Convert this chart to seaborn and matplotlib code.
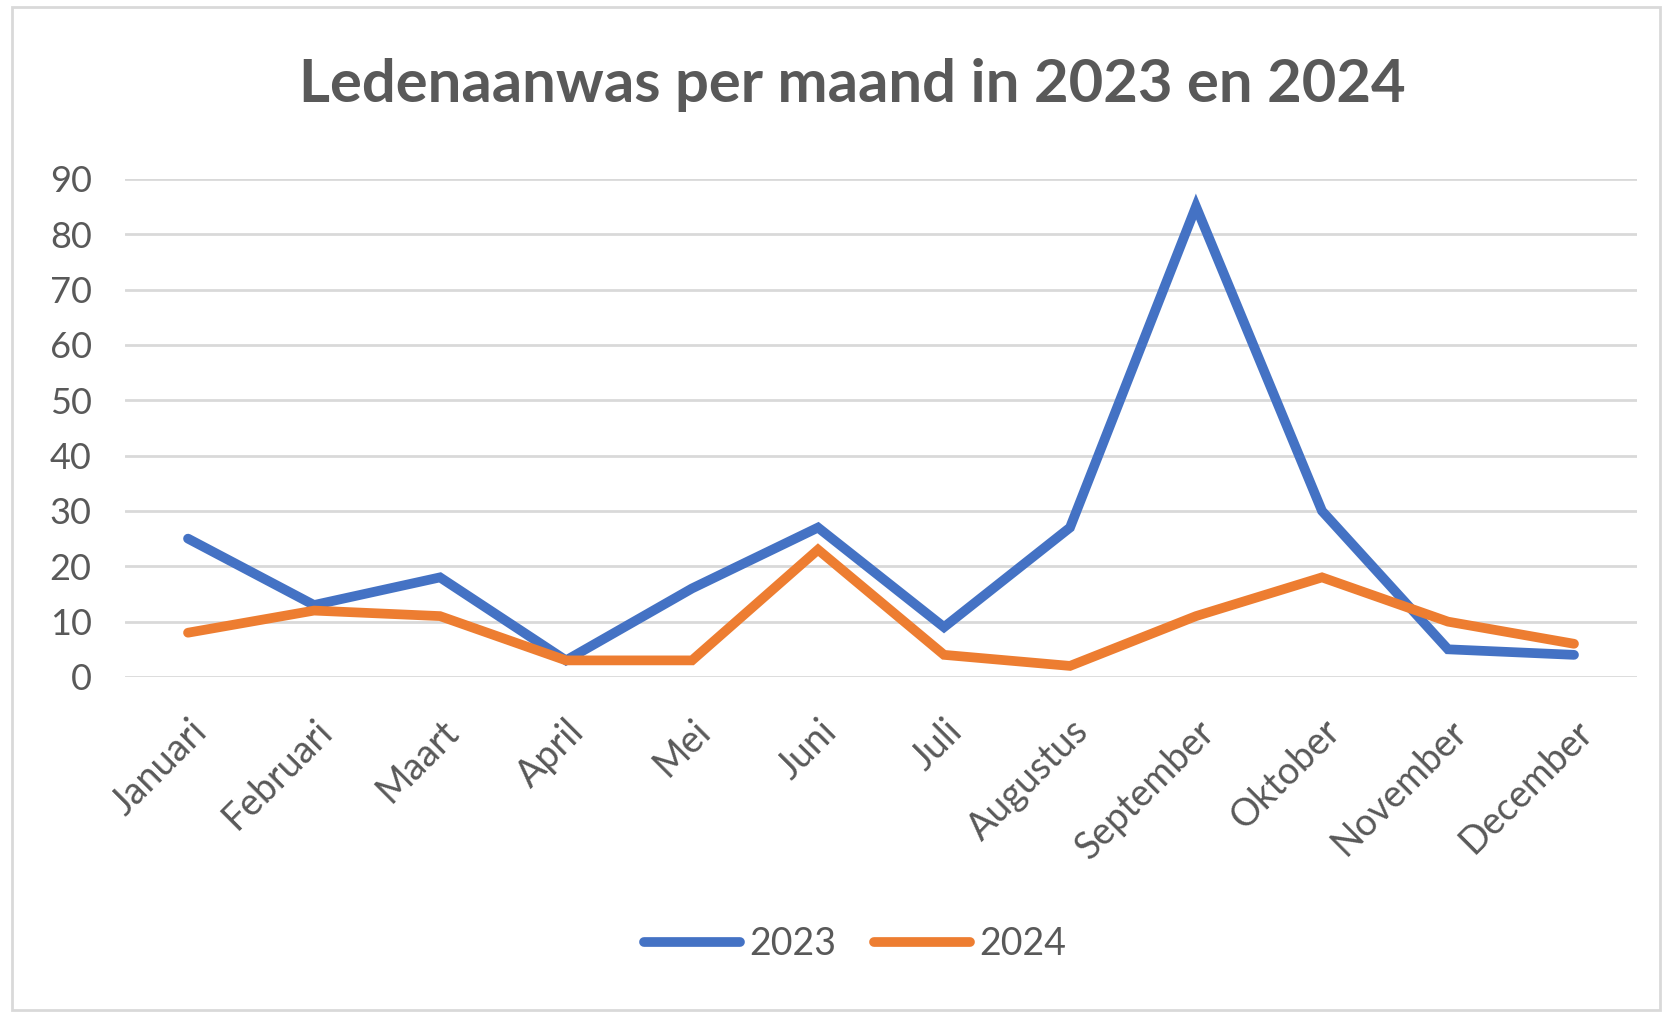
import numpy as np
import pandas as pd
import matplotlib.pyplot as plt
import seaborn as sns
from matplotlib.patches import Rectangle

months = ["Januari", "Februari", "Maart", "April", "Mei", "Juni", "Juli",
          "Augustus", "September", "Oktober", "November", "December"]
growth_2023 = [25, 13, 18, 3, 16, 27, 9, 27, 85, 30, 5, 4]
growth_2024 = [8, 12, 11, 3, 3, 23, 4, 2, 11, 18, 10, 6]
years = ["2023", "2024"]
y_ticks = list(range(0, 100, 10))

df = pd.DataFrame({
    "maand": months * 2,
    "jaar": [years[0]] * 12 + [years[1]] * 12,
    "aanwas": growth_2023 + growth_2024,
})

sns.set_theme(style="white")
plt.rcParams['font.family'] = ['Lato', 'DejaVu Sans']
text_color = "#595959"

fig = plt.figure(figsize=(16.67, 10.13), dpi=100)
ax = fig.add_axes([0.075, 0.3317, 0.907, 0.4917])

sns.lineplot(data=df, x="maand", y="aanwas", hue="jaar", sort=False,
             palette={"2023": "#4472C4", "2024": "#ED7D31"},
             linewidth=7, ax=ax, legend=True)

ax.set_xlim(-0.5, len(months) - 0.5)
ax.set_ylim(0, 90)
ax.set_yticks(y_ticks)
ax.yaxis.grid(True, color="#D9D9D9", linewidth=2)
ax.set_axisbelow(True)
for s in ax.spines.values():
    s.set_visible(False)
ax.set_xlabel("")
ax.set_ylabel("")
ax.tick_params(axis="both", length=0, labelcolor=text_color)
ax.tick_params(axis="y", pad=24, labelsize=26)
ax.tick_params(axis="x", pad=26, labelsize=27)
plt.setp(ax.get_xticklabels(), rotation=45, ha="right", rotation_mode="anchor")
for line in ax.get_lines():
    line.set_solid_capstyle("round")
    line.set_solid_joinstyle("miter")
    line.set_clip_on(False)

handles, labels = ax.get_legend_handles_labels()
ax.legend_.remove()
for h in handles:
    h.set_linewidth(7)
    h.set_solid_capstyle("round")
fig.legend(handles, labels, loc="center", bbox_to_anchor=(0.513, 0.068),
           ncol=2, frameon=False, fontsize=27, labelcolor=text_color,
           handlelength=2.55, handletextpad=0.25, columnspacing=1.0)

fig.suptitle("Ledenaanwas per maand in 2023 en 2024", x=0.511, y=0.916, va="center",
             fontsize=43, fontweight="bold", color=text_color)

fig.patches.append(Rectangle((0.007, 0.003), 0.989, 0.99, transform=fig.transFigure,
                             fill=False, edgecolor="#D9D9D9", linewidth=2))

fig.savefig("out.png", dpi=100)
